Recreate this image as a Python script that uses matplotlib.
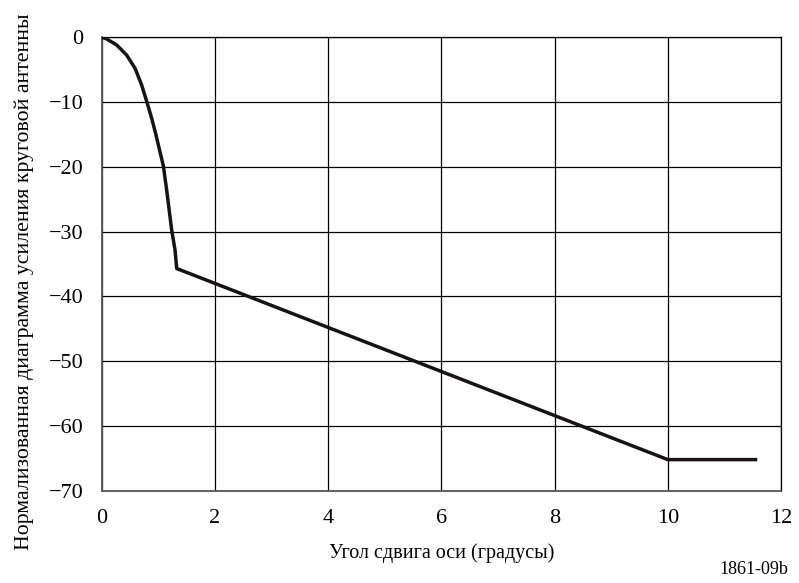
import matplotlib.pyplot as plt

plt.rcParams['font.family'] = ['Liberation Serif', 'DejaVu Serif']

# off-axis angle (deg) and normalised gain (dB)
angle = [0.0, 0.088, 0.265, 0.44, 0.59, 0.707, 0.795, 0.883, 0.96, 1.03, 1.09,
         1.148, 1.237, 1.295, 1.325, 10.0, 11.55]
gain = [0.0, -0.26, -1.19, -2.73, -4.8, -7.4, -9.9, -12.5, -15.1, -17.7, -19.9,
        -23.6, -29.8, -32.8, -35.7, -65.2, -65.2]

x_ticks = [0, 2, 4, 6, 8, 10, 12]
y_ticks = [0, -10, -20, -30, -40, -50, -60, -70]

fig = plt.figure(figsize=(7.99, 5.83), dpi=100)
ax = fig.add_axes([101.7 / 799, 1 - 490.7 / 583, (781 - 101.7) / 799, (490.7 - 37.3) / 583])

ax.plot(angle, gain, color='#1a1212', lw=2.5, solid_joinstyle='round', zorder=3)

ax.set_xlim(0, 12)
ax.set_ylim(-70, 0)
ax.set_xticks(x_ticks)
ax.set_yticks(y_ticks)
ax.grid(True, color='black', lw=0.9)
ax.tick_params(length=0, labelsize=16, pad=13)
for side in ['left', 'bottom']:
    ax.spines[side].set_color('#555555')
    ax.spines[side].set_linewidth(1.3)
for side in ['right', 'top']:
    ax.spines[side].set_color('black')
    ax.spines[side].set_linewidth(0.9)

xl = ax.set_xlabel('Угол сдвига оси (градусы)', fontsize=14.5)
xl.set_va('center')
ax.xaxis.set_label_coords(0.5, -0.137)

yl = ax.set_ylabel('Нормализованная диаграмма усиления круговой антенны', fontsize=15.7)
yl.set_va('center')
ax.yaxis.set_label_coords(-0.114, 0.461)

fig.text(788 / 799, 1 - 570 / 583, '1861-09b', fontsize=13, ha='right', va='center')

fig.savefig('out.png', dpi=100)
